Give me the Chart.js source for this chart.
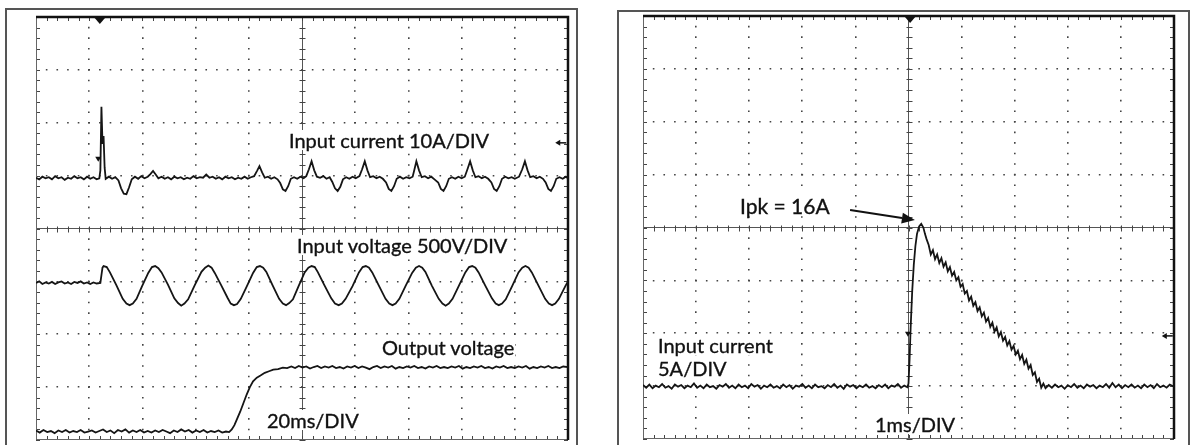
<!DOCTYPE html>
<html lang="en">
<head>
<meta charset="UTF-8" />
<title>Inrush current waveforms</title>
<script src="https://cdn.jsdelivr.net/npm/chart.js"></script>
<style>
  body { margin:0; width:1198px; height:445px; background:#fff; position:relative; overflow:hidden;
         font-family: Lato, "Open Sans", sans-serif; color:#111; }
  .frame { position:absolute; border:2px solid #555; border-bottom:none; box-sizing:border-box; }
  canvas { position:absolute; }
  .lbl { position:absolute; font-size:20px; line-height:1; white-space:nowrap; z-index:2;
         background:#fff; padding:0 1px; -webkit-text-stroke:0.35px #111; }
</style>
</head>
<body>
  <div class="frame" style="left:5px;top:8px;width:573px;height:450px"></div>
  <div class="frame" style="left:617px;top:10px;width:573px;height:450px"></div>

  <canvas id="leftScope" width="552" height="437" style="left:26px;top:7px"></canvas>
  <canvas id="rightScope" width="551" height="437" style="left:633px;top:6px"></canvas>

  <!-- left scope labels -->
  <div class="lbl" style="left:288px;top:130px">Input current 10A/DIV</div>
  <div class="lbl" style="left:296px;top:235px">Input voltage 500V/DIV</div>
  <div class="lbl" style="left:381px;top:337px">Output voltage</div>
  <div class="lbl" style="left:266px;top:410px">20ms/DIV</div>

  <!-- right scope labels -->
  <div class="lbl" style="left:739px;top:195px;font-size:21px">Ipk = 16A</div>
  <div class="lbl" style="left:657px;top:335px">Input current</div>
  <div class="lbl" style="left:657px;top:358px">5A/DIV</div>
  <div class="lbl" style="left:874px;top:414px">1ms/DIV</div>

<script>
  // time in divisions (0..10), amplitude in divisions (-4..4, 0 = screen centre)

  // left scope: input current, 10A/DIV
  const leftCurrent = [
    [0.00,0.96],[0.06,0.93],[0.12,0.98],[0.18,0.95],[0.24,0.97],[0.30,0.93],[0.36,0.99],[0.42,0.95],[0.48,0.97],[0.54,0.92],
    [0.60,0.96],[0.66,0.94],[0.72,0.99],[0.78,0.95],[0.84,0.97],[0.90,0.93],[0.96,0.98],[1.02,0.94],[1.08,0.97],[1.14,0.93],[1.19,0.95],
    [1.21,1.10],[1.23,2.30],[1.25,1.60],[1.27,1.75],[1.29,1.15],[1.31,0.94],
    [1.37,0.98],[1.43,0.94],[1.49,0.97],[1.55,0.91],[1.60,0.76],[1.65,0.66],[1.70,0.65],[1.75,0.78],[1.80,0.93],[1.86,0.98],
    [1.92,0.94],[1.98,0.99],[2.04,0.95],[2.10,0.98],[2.15,1.03],[2.20,1.09],[2.25,1.02],[2.30,0.95],
    [2.36,0.98],[2.42,0.94],[2.48,0.97],[2.54,0.93],[2.60,0.98],[2.66,0.95],[2.72,0.97],[2.78,0.93],[2.84,0.96],[2.90,0.94],
    [2.96,0.99],[3.02,0.95],[3.08,0.97],[3.14,0.96],[3.20,1.02],[3.26,0.96],[3.32,0.98],[3.38,0.94],[3.44,0.97],[3.50,0.93],
    [3.56,0.98],[3.62,0.95],[3.68,0.97],[3.74,0.93],[3.80,0.96],[3.86,0.94],[3.92,0.98],[3.98,0.94],[4.04,0.97],[4.10,0.99],
    [4.16,1.10],[4.20,1.18],[4.25,1.06],[4.30,0.96],[4.36,0.98],[4.42,0.94],[4.48,0.97],[4.54,0.93],[4.59,0.86],[4.64,0.74],
    [4.69,0.71],[4.74,0.80],[4.79,0.94],[4.85,0.97],[4.91,0.94],[4.97,0.98],[5.03,0.95],[5.08,0.99],
    [5.13,1.12],[5.18,1.27],[5.23,1.10],[5.28,0.98],[5.34,0.96],[5.40,0.99],[5.46,0.94],[5.52,0.97],[5.57,0.88],[5.62,0.76],
    [5.67,0.71],[5.72,0.79],[5.77,0.93],[5.83,0.97],[5.89,0.94],[5.95,0.98],[6.01,0.95],[6.08,0.99],
    [6.13,1.12],[6.18,1.27],[6.23,1.10],[6.28,0.97],[6.34,0.99],[6.40,0.95],[6.46,0.98],[6.52,0.94],[6.58,0.87],[6.63,0.75],
    [6.68,0.71],[6.73,0.80],[6.78,0.94],[6.84,0.98],[6.90,0.94],[6.96,0.97],[7.02,0.95],[7.08,0.98],
    [7.11,1.10],[7.15,1.27],[7.20,1.10],[7.25,0.97],[7.31,0.99],[7.37,0.95],[7.43,0.98],[7.49,0.93],[7.56,0.87],[7.61,0.75],
    [7.66,0.71],[7.71,0.80],[7.76,0.94],[7.82,0.97],[7.88,0.94],[7.94,0.98],[8.00,0.95],[8.06,0.98],
    [8.11,1.12],[8.16,1.27],[8.21,1.10],[8.26,0.97],[8.32,0.99],[8.38,0.95],[8.44,0.98],[8.50,0.94],[8.56,0.87],[8.61,0.75],
    [8.66,0.71],[8.71,0.80],[8.76,0.94],[8.82,0.98],[8.88,0.95],[8.94,0.97],[9.00,0.94],[9.08,0.98],
    [9.14,1.12],[9.19,1.27],[9.24,1.10],[9.29,0.97],[9.35,0.99],[9.41,0.95],[9.47,0.98],[9.53,0.94],[9.58,0.87],[9.63,0.75],
    [9.68,0.71],[9.73,0.80],[9.78,0.94],[9.84,0.97],[9.90,0.94],[9.96,0.98],[10.00,0.95]
  ];

  // left scope: input voltage, 500V/DIV
  const leftVoltage = [
    [0.00,-1.03],[0.06,-1.00],[0.12,-1.05],[0.18,-1.02],[0.24,-1.04],[0.30,-1.01],[0.36,-1.05],[0.42,-1.02],[0.48,-1.00],[0.54,-1.04],
    [0.60,-1.02],[0.66,-1.05],[0.72,-1.01],[0.78,-1.03],[0.84,-1.00],[0.90,-1.04],[0.96,-1.02],[1.02,-1.05],[1.08,-1.02],[1.14,-1.04],[1.21,-1.03],
    [1.23,-0.88],[1.25,-0.74],[1.27,-0.71],[1.33,-0.73],[1.39,-0.83],[1.51,-1.07],[1.63,-1.33],[1.70,-1.42],[1.76,-1.45],[1.82,-1.42],[1.89,-1.33],[1.99,-1.10],
    [2.11,-0.84],[2.18,-0.73],[2.24,-0.71],[2.30,-0.75],[2.36,-0.83],[2.48,-1.06],[2.60,-1.32],[2.67,-1.41],[2.73,-1.46],[2.79,-1.42],[2.86,-1.34],[2.98,-1.08],
    [3.11,-0.82],[3.18,-0.74],[3.24,-0.70],[3.30,-0.74],[3.36,-0.84],[3.48,-1.07],[3.60,-1.31],[3.66,-1.42],[3.72,-1.45],[3.78,-1.43],[3.85,-1.33],[3.96,-1.10],
    [4.08,-0.84],[4.15,-0.73],[4.21,-0.71],[4.27,-0.74],[4.33,-0.82],[4.45,-1.08],[4.57,-1.33],[4.64,-1.42],[4.70,-1.45],[4.76,-1.41],[4.83,-1.34],[4.94,-1.08],
    [5.05,-0.83],[5.12,-0.74],[5.18,-0.71],[5.24,-0.73],[5.30,-0.83],[5.42,-1.07],[5.55,-1.32],[5.62,-1.42],[5.69,-1.45],[5.75,-1.42],[5.82,-1.33],[5.95,-1.09],
    [6.07,-0.83],[6.14,-0.73],[6.20,-0.71],[6.26,-0.74],[6.32,-0.83],[6.44,-1.07],[6.57,-1.33],[6.64,-1.42],[6.70,-1.45],[6.76,-1.42],[6.83,-1.33],[6.95,-1.08],
    [7.07,-0.84],[7.14,-0.74],[7.20,-0.71],[7.26,-0.74],[7.32,-0.82],[7.44,-1.08],[7.57,-1.33],[7.64,-1.42],[7.70,-1.46],[7.76,-1.42],[7.83,-1.33],[7.95,-1.08],
    [8.07,-0.83],[8.14,-0.73],[8.20,-0.71],[8.26,-0.74],[8.32,-0.83],[8.44,-1.07],[8.57,-1.32],[8.64,-1.42],[8.70,-1.45],[8.76,-1.42],[8.83,-1.34],[8.95,-1.09],
    [9.07,-0.83],[9.14,-0.74],[9.20,-0.71],[9.26,-0.74],[9.32,-0.83],[9.44,-1.07],[9.57,-1.33],[9.64,-1.42],[9.70,-1.45],[9.76,-1.42],[9.83,-1.33],[9.95,-1.09],[10.00,-1.00]
  ];

  // left scope: output voltage
  const leftOutput = [
    [0.00,-3.82],[0.07,-3.86],[0.14,-3.81],[0.21,-3.85],[0.28,-3.83],[0.35,-3.87],[0.42,-3.82],[0.49,-3.85],[0.56,-3.81],[0.63,-3.86],
    [0.70,-3.83],[0.77,-3.85],[0.84,-3.81],[0.91,-3.86],[0.98,-3.84],[1.05,-3.82],[1.12,-3.86],[1.19,-3.83],[1.26,-3.80],[1.33,-3.85],
    [1.40,-3.82],[1.47,-3.87],[1.54,-3.81],[1.61,-3.84],[1.68,-3.80],[1.75,-3.86],[1.82,-3.82],[1.89,-3.85],[1.96,-3.81],[2.03,-3.86],
    [2.10,-3.83],[2.17,-3.86],[2.24,-3.82],[2.31,-3.85],[2.38,-3.81],[2.45,-3.84],[2.52,-3.87],[2.59,-3.82],[2.66,-3.85],[2.73,-3.80],
    [2.80,-3.84],[2.87,-3.81],[2.94,-3.86],[3.01,-3.82],[3.08,-3.85],[3.15,-3.81],[3.22,-3.86],[3.29,-3.83],[3.36,-3.85],[3.43,-3.82],
    [3.50,-3.86],[3.57,-3.84],[3.63,-3.85],
    [3.68,-3.80],[3.73,-3.72],[3.78,-3.60],[3.84,-3.46],[3.90,-3.30],[3.96,-3.14],[4.02,-3.00],[4.08,-2.89],[4.15,-2.82],[4.22,-2.78],
    [4.30,-2.73],[4.38,-2.70],[4.46,-2.67],[4.55,-2.66],[4.64,-2.63],[4.72,-2.64],[4.80,-2.61],
    [4.87,-2.64],[4.94,-2.60],[5.01,-2.63],[5.08,-2.61],[5.15,-2.65],[5.22,-2.62],[5.29,-2.60],[5.36,-2.64],[5.43,-2.61],[5.50,-2.63],
    [5.57,-2.60],[5.64,-2.64],[5.71,-2.62],[5.78,-2.65],[5.85,-2.61],[5.92,-2.63],[5.99,-2.60],[6.06,-2.64],[6.13,-2.61],[6.20,-2.63],
    [6.27,-2.66],[6.34,-2.62],[6.41,-2.60],[6.48,-2.64],[6.55,-2.61],[6.62,-2.63],[6.69,-2.60],[6.76,-2.65],[6.83,-2.62],[6.90,-2.64],
    [6.97,-2.61],[7.04,-2.63],[7.11,-2.60],[7.18,-2.64],[7.25,-2.62],[7.32,-2.65],[7.39,-2.61],[7.46,-2.63],[7.53,-2.60],[7.60,-2.64],
    [7.67,-2.62],[7.74,-2.64],[7.81,-2.61],[7.88,-2.63],[7.95,-2.60],[8.02,-2.65],[8.09,-2.62],[8.16,-2.64],[8.23,-2.61],[8.30,-2.63],
    [8.37,-2.60],[8.44,-2.64],[8.51,-2.62],[8.58,-2.65],[8.65,-2.61],[8.72,-2.63],[8.79,-2.60],[8.86,-2.64],[8.93,-2.62],[9.00,-2.64],
    [9.07,-2.61],[9.14,-2.63],[9.21,-2.60],[9.28,-2.65],[9.35,-2.62],[9.42,-2.64],[9.49,-2.61],[9.56,-2.63],[9.63,-2.60],[9.70,-2.64],
    [9.77,-2.62],[9.84,-2.64],[9.91,-2.61],[10.00,-2.62]
  ];

  // right scope: input current, 5A/DIV, 1ms/DIV
  const rightCurrent = [
    [0.00,-2.98],[0.06,-3.03],[0.12,-2.97],[0.18,-3.04],[0.24,-2.99],[0.30,-3.02],[0.36,-2.96],[0.42,-3.03],[0.48,-3.00],[0.54,-3.05],
    [0.60,-2.97],[0.66,-3.01],[0.72,-2.98],[0.78,-3.04],[0.84,-2.99],[0.90,-3.02],[0.96,-2.95],[1.02,-3.03],[1.08,-2.99],[1.14,-3.04],
    [1.20,-2.97],[1.26,-3.02],[1.32,-3.00],[1.38,-3.05],[1.44,-2.98],[1.50,-3.01],[1.56,-2.96],[1.62,-3.03],[1.68,-2.99],[1.74,-3.04],
    [1.80,-2.97],[1.86,-3.02],[1.92,-2.99],[1.98,-3.04],[2.04,-2.96],[2.10,-3.01],[2.16,-2.98],[2.22,-3.05],[2.28,-2.99],[2.34,-3.02],
    [2.40,-2.97],[2.46,-3.03],[2.52,-3.00],[2.58,-3.04],[2.64,-2.97],[2.70,-3.02],[2.76,-2.98],[2.82,-3.05],[2.88,-2.99],[2.94,-3.01],
    [3.00,-2.96],[3.06,-3.03],[3.12,-2.99],[3.18,-3.04],[3.24,-2.97],[3.30,-3.02],[3.36,-3.00],[3.42,-3.04],[3.48,-2.98],[3.54,-3.02],
    [3.60,-2.96],[3.66,-3.03],[3.72,-2.99],[3.78,-3.05],[3.84,-2.97],[3.90,-3.01],[3.96,-2.98],[4.02,-3.04],[4.08,-2.99],[4.14,-3.02],
    [4.20,-2.97],[4.26,-3.03],[4.32,-3.00],[4.38,-3.04],[4.44,-2.98],[4.50,-3.02],[4.56,-2.97],[4.62,-3.04],[4.68,-2.99],[4.74,-3.01],
    [4.80,-2.96],[4.86,-3.03],[4.92,-2.99],[4.98,-3.02],
    [5.00,-2.95],[5.02,-2.50],[5.04,-1.90],[5.07,-1.20],[5.10,-0.70],[5.13,-0.35],[5.16,-0.12],[5.20,0.02],[5.24,0.07],[5.28,0.00],
    [5.31,-0.12],[5.34,-0.22],[5.38,-0.33],
    [5.42,-0.51],[5.46,-0.43],[5.50,-0.60],[5.54,-0.51],[5.58,-0.67],[5.62,-0.58],[5.66,-0.74],[5.70,-0.66],[5.74,-0.83],[5.78,-0.75],
    [5.82,-0.91],[5.86,-0.84],[5.90,-1.00],[5.94,-0.94],[5.98,-1.12],[6.02,-1.07],[6.06,-1.25],[6.10,-1.20],[6.14,-1.38],[6.18,-1.31],
    [6.22,-1.48],[6.26,-1.41],[6.30,-1.58],[6.34,-1.51],[6.38,-1.68],[6.42,-1.61],[6.46,-1.78],[6.50,-1.71],[6.54,-1.88],[6.58,-1.80],
    [6.62,-1.97],[6.66,-1.89],[6.70,-2.06],[6.74,-1.98],[6.78,-2.14],[6.82,-2.07],[6.86,-2.23],[6.90,-2.15],[6.94,-2.31],[6.98,-2.24],
    [7.02,-2.40],[7.06,-2.33],[7.10,-2.49],[7.14,-2.41],[7.18,-2.58],[7.22,-2.50],[7.26,-2.67],[7.30,-2.60],[7.34,-2.79],[7.38,-2.74],
    [7.42,-2.92],[7.46,-2.86],[7.50,-3.03],[7.54,-2.95],
    [7.58,-3.04],[7.64,-2.98],[7.70,-3.03],[7.76,-2.97],[7.82,-3.02],[7.88,-2.99],[7.94,-3.05],[8.00,-2.98],[8.06,-3.02],[8.12,-2.96],
    [8.18,-3.03],[8.24,-2.99],[8.30,-3.04],[8.36,-2.97],[8.42,-3.01],[8.48,-2.98],[8.54,-3.04],[8.60,-2.99],[8.66,-3.02],[8.72,-2.96],
    [8.78,-3.03],[8.84,-2.94],[8.90,-3.02],[8.96,-2.97],[9.02,-3.04],[9.08,-2.98],[9.14,-3.02],[9.20,-2.97],[9.26,-3.03],[9.32,-2.99],
    [9.38,-3.04],[9.44,-2.97],[9.50,-3.02],[9.56,-2.98],[9.62,-3.04],[9.68,-2.96],[9.74,-3.02],[9.80,-2.99],[9.86,-3.03],[9.92,-2.97],[10.00,-3.01]
  ];

  // screen markers (in divisions)
  const leftMarks = { trigger: 1.2, tMark: [1.17, 1.30], ground: [9.76, 1.62], arrow: null };
  const rightMarks = { trigger: 5.03, tMark: [4.99, -2.03], ground: [9.77, -2.05], arrow: [[3.9, 0.33], [5.12, 0.14]] };

  const isEdge = (v, lo, hi) => v === lo || v === hi;

  function scopeAxis(lo, hi, mid, horizontal) {
    return {
      type: 'linear', min: lo, max: hi,
      ticks: { display: false, stepSize: 1 },
      grid: {
        drawTicks: false,
        color: c => isEdge(c.tick.value, lo, hi) ? 'rgba(0,0,0,0)' : (c.tick.value === mid ? '#555' : '#444'),
        lineWidth: c => c.tick.value === mid ? 1 : 1.6
      },
      border: {
        display: false,
        dash: c => {
          if (c.tick && c.tick.value === mid) return [];
          const a = c.chart.chartArea;
          // dots every 1/5 division along the line
          const step = horizontal ? (a.bottom - a.top) / 40 : (a.right - a.left) / 50;
          return [1.6, step - 1.6];
        },
        dashOffset: 0.8
      }
    };
  }

  const scopeDecor = {
    id: 'scopeDecor',
    beforeDatasetsDraw(chart) {
      const { ctx, chartArea: a, scales: { x, y } } = chart;
      const cx = Math.round(x.getPixelForValue(5)) + 0.5;
      const cy = Math.round(y.getPixelForValue(0)) + 0.5;
      ctx.save();
      ctx.strokeStyle = '#444';
      ctx.lineWidth = 1;
      ctx.beginPath();
      for (let i = 0; i <= 50; i++) {
        const px = Math.round(x.getPixelForValue(i / 5)) + 0.5;
        ctx.moveTo(px, a.top); ctx.lineTo(px, a.top + 4);
        ctx.moveTo(px, a.bottom); ctx.lineTo(px, a.bottom - 4);
        ctx.moveTo(px, cy - 3); ctx.lineTo(px, cy + 3);
      }
      for (let j = 0; j <= 40; j++) {
        const py = Math.round(y.getPixelForValue(-4 + j / 5)) + 0.5;
        ctx.moveTo(a.left, py); ctx.lineTo(a.left + 4, py);
        ctx.moveTo(a.right, py); ctx.lineTo(a.right - 4, py);
        ctx.moveTo(cx - 3, py); ctx.lineTo(cx + 3, py);
      }
      ctx.stroke();
      // graticule frame
      ctx.strokeStyle = '#666';
      ctx.beginPath();
      ctx.moveTo(a.left + 0.5, a.top); ctx.lineTo(a.left + 0.5, a.bottom - 0.5); ctx.lineTo(a.right, a.bottom - 0.5);
      ctx.stroke();
      ctx.strokeStyle = '#111';
      ctx.lineWidth = 2.5;
      ctx.beginPath();
      ctx.moveTo(a.left, a.top); ctx.lineTo(a.right, a.top); ctx.lineTo(a.right, a.bottom);
      ctx.stroke();
      ctx.restore();
    },
    afterDatasetsDraw(chart, args, opts) {
      const { ctx, chartArea: a, scales: { x, y } } = chart;
      ctx.save();
      ctx.fillStyle = '#111';
      ctx.strokeStyle = '#111';
      // trigger position
      const tx = x.getPixelForValue(opts.trigger);
      ctx.beginPath();
      ctx.moveTo(tx - 6, a.top); ctx.lineTo(tx + 6, a.top); ctx.lineTo(tx, a.top + 7);
      ctx.fill();
      // trigger level
      const mx = x.getPixelForValue(opts.tMark[0]), my = y.getPixelForValue(opts.tMark[1]);
      ctx.beginPath();
      ctx.moveTo(mx - 3, my - 3); ctx.lineTo(mx + 3, my - 3); ctx.lineTo(mx, my + 2);
      ctx.fill();
      // channel ground
      const gx = x.getPixelForValue(opts.ground[0]), gy = y.getPixelForValue(opts.ground[1]);
      ctx.lineWidth = 1.5;
      ctx.beginPath();
      ctx.moveTo(gx + 11, gy); ctx.lineTo(gx + 2, gy);
      ctx.stroke();
      ctx.beginPath();
      ctx.moveTo(gx, gy); ctx.lineTo(gx + 5, gy - 3); ctx.lineTo(gx + 5, gy + 3);
      ctx.fill();
      // peak pointer
      if (opts.arrow) {
        const [p0, p1] = opts.arrow;
        const x0 = x.getPixelForValue(p0[0]), y0 = y.getPixelForValue(p0[1]);
        const x1 = x.getPixelForValue(p1[0]), y1 = y.getPixelForValue(p1[1]);
        const ang = Math.atan2(y1 - y0, x1 - x0);
        const hx = x1 - 13 * Math.cos(ang), hy = y1 - 13 * Math.sin(ang);
        ctx.lineWidth = 2;
        ctx.beginPath();
        ctx.moveTo(x0, y0); ctx.lineTo(hx, hy);
        ctx.stroke();
        ctx.beginPath();
        ctx.moveTo(x1, y1);
        ctx.lineTo(hx + 5.5 * Math.sin(ang), hy - 5.5 * Math.cos(ang));
        ctx.lineTo(hx - 5.5 * Math.sin(ang), hy + 5.5 * Math.cos(ang));
        ctx.closePath();
        ctx.fill();
      }
      ctx.restore();
    }
  };

  const toPoints = trace => trace.map(([x, y]) => ({ x, y }));

  function makeScope(id, traces, marks) {
    return new Chart(document.getElementById(id), {
      type: 'line',
      data: {
        datasets: traces.map(t => ({
          data: toPoints(t),
          borderColor: '#151515',
          borderWidth: 1.8,
          pointRadius: 0,
          tension: 0,
          fill: false
        }))
      },
      options: {
        responsive: false,
        animation: false,
        layout: { padding: { left: 10, right: 10, top: 10, bottom: 4 } },
        plugins: { legend: { display: false }, tooltip: { enabled: false }, scopeDecor: marks },
        scales: {
          x: scopeAxis(0, 10, 5, true),
          y: scopeAxis(-4, 4, 0, false)
        }
      },
      plugins: [scopeDecor]
    });
  }

  makeScope('leftScope', [leftCurrent, leftVoltage, leftOutput], leftMarks);
  makeScope('rightScope', [rightCurrent], rightMarks);
</script>
</body>
</html>
